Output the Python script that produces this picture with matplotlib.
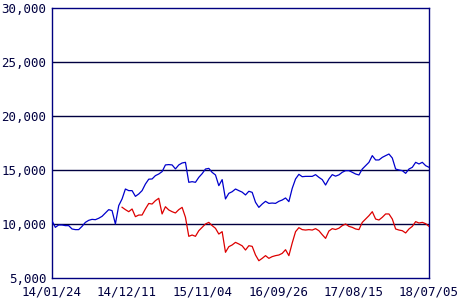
import matplotlib
matplotlib.use('Agg')

import pandas as pd
import matplotlib.pyplot as plt
from matplotlib.ticker import FuncFormatter

# sample dates (about every two weeks) from 2014-01-24 to 2018-07-05
n_points = 114
dates = pd.date_range('2014-01-24', '2018-07-05', periods=n_points)

# blue series, full period
blue = [
    10310, 9690, 9910, 9910, 9850, 9850, 9540, 9480, 9480, 9780,
    10150, 10340, 10430, 10400, 10530, 10710, 11020, 11330, 11240, 10000,
    11700, 12320, 13240, 13090, 13090, 12560, 12780, 13090, 13700, 14150,
    14170, 14480, 14630, 14850, 15470, 15500, 15470, 15100, 15470, 15650,
    15710, 13860, 13920, 13860, 14320, 14660, 15090, 15150, 14780, 14540,
    13550, 14110, 12320, 12840, 12990, 13240, 13090, 12950, 12690, 13030,
    12930, 12010, 11540, 11850, 12100, 11910, 11940, 11910, 12100, 12220,
    12410, 12070, 13300, 14170, 14600, 14380, 14410, 14410, 14410, 14570,
    14320, 14110, 13610, 14170, 14570, 14430, 14550, 14790, 14940, 14940,
    14790, 14630, 14540, 15090, 15400, 15710, 16330, 15930, 15930, 16170,
    16330, 16480, 16110, 15090, 15000, 14940, 14690, 15090, 15250, 15710,
    15560, 15710, 15400, 15250,
]

# red series, starts later (index 21)
red_start = 21
red = [
    11550, 11330, 11140, 11390, 10680, 10830, 10830, 11400, 11900,
    11850, 12160, 12380, 10930, 11600, 11300, 11140, 11020, 11330, 11540,
    10620, 8860, 8980, 8860, 9380, 9690, 10000, 10150, 9850, 9600,
    9070, 9290, 7380, 7900, 8060, 8300, 8150, 7980, 7590, 7990,
    7930, 7130, 6600, 6820, 7070, 6820, 6980, 7070, 7130, 7280,
    7620, 7070, 8240, 9290, 9660, 9480, 9440, 9480, 9440, 9570,
    9380, 9010, 8670, 9350, 9570, 9490, 9610, 9850, 10000, 9780,
    9690, 9540, 9480, 10150, 10460, 10770, 11140, 10460, 10370, 10620,
    10930, 10930, 10460, 9540, 9440, 9380, 9170, 9540, 9780, 10220,
    10090, 10150, 10030, 9780,
]

tick_dates = ['2014-01-24', '2014-12-11', '2015-11-04',
              '2016-09-26', '2017-08-15', '2018-07-05']
tick_labels = ['14/01/24', '14/12/11', '15/11/04',
               '16/09/26', '17/08/15', '18/07/05']
y_ticks = [5000, 10000, 15000, 20000, 25000, 30000]

plt.rcParams['font.family'] = ['DejaVu Sans Mono']

fig = plt.figure(figsize=(4.7, 3.0), dpi=100)
ax = fig.add_axes([52 / 470, 22 / 300, 377 / 470, 270 / 300])

ax.plot(dates, blue, color='#0000cc', linewidth=0.9, zorder=3)
ax.plot(dates[red_start:], red, color='#dd0000', linewidth=0.9, zorder=3)

ax.set_ylim(5000, 30000)
ax.set_xlim(dates[0], dates[-1])
ax.set_yticks(y_ticks)
ax.yaxis.set_major_formatter(FuncFormatter(lambda v, p: '{:,.0f}'.format(v)))
ax.set_xticks(pd.to_datetime(tick_dates))
ax.set_xticklabels(tick_labels)

for v in y_ticks[1:-1]:
    ax.axhline(v, color='#000040', linewidth=1.0, zorder=2)

for s in ax.spines.values():
    s.set_color('#000080')
    s.set_linewidth(1.0)

ax.tick_params(length=0, labelsize=9, colors='#000040', pad=4)
ax.tick_params(axis='x', pad=5.5)

plt.savefig('out.png', dpi=100)
